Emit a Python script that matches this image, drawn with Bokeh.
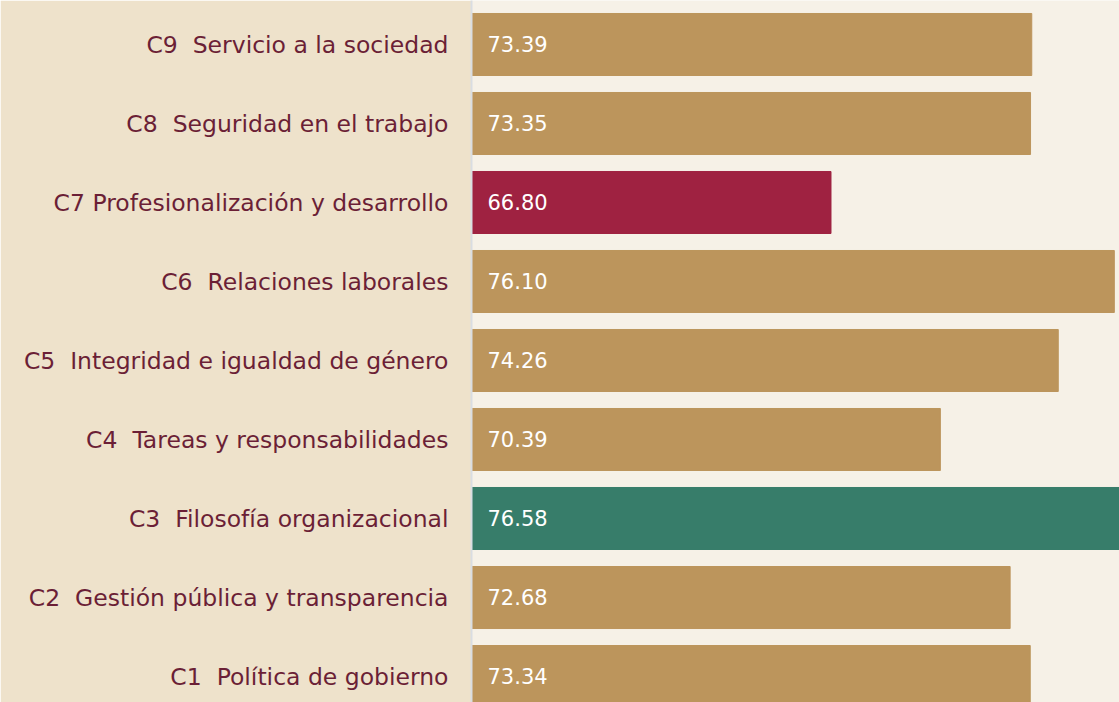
from bokeh.plotting import figure
from bokeh.models import ColumnDataSource, Range1d, FixedTicker
from bokeh.core.properties import value
from bokeh.embed import file_html
from bokeh.resources import INLINE

NB = "\u00a0"
categories = [
    "C1" + NB + " Política de gobierno",
    "C2" + NB + " Gestión pública y transparencia",
    "C3" + NB + " Filosofía organizacional",
    "C4" + NB + " Tareas y responsabilidades",
    "C5" + NB + " Integridad e igualdad de género",
    "C6" + NB + " Relaciones laborales",
    "C7 Profesionalización y desarrollo",
    "C8" + NB + " Seguridad en el trabajo",
    "C9" + NB + " Servicio a la sociedad",
]
scores = [73.34, 72.68, 76.58, 70.39, 74.26, 76.10, 66.80, 73.35, 73.39]
bar_colors = ["#BC955C", "#BC955C", "#377D6A", "#BC955C", "#BC955C",
              "#BC955C", "#9F2241", "#BC955C", "#BC955C"]

base = 55
positions = list(range(1, len(categories) + 1))
labels = [f"{v:.2f}" for v in scores]

src = ColumnDataSource(dict(y=positions, v=scores, c=bar_colors, lab=labels,
                            base=[base] * len(scores)))

FONT = "DejaVu Sans"

p = figure(width=1119, height=702, output_backend="svg", toolbar_location=None,
           x_range=Range1d(base, 76.27), y_range=Range1d(0.671, 9.557),
           min_border_left=471, min_border_right=0, min_border_top=0,
           min_border_bottom=0)

p.background_fill_color = "#F6F1E7"
p.border_fill_color = "#EEE2CB"
p.outline_line_color = None
p.grid.visible = False
p.xaxis.visible = False

p.hbar(y="y", left="base", right="v", height=0.785, color="c", source=src)
p.text(x="base", y="y", text="lab", source=src, x_offset=16, y_offset=-1,
       text_color="white", text_font=value(FONT), text_font_size="21px",
       text_baseline="middle", text_align="left")

ax = p.yaxis[0]
ax.ticker = FixedTicker(ticks=positions)
ax.major_label_overrides = {pos: cat for pos, cat in zip(positions, categories)}
ax.major_tick_line_color = None
ax.minor_tick_line_color = None
ax.axis_line_color = "#D9DDE2"
ax.axis_line_width = 2
ax.major_label_standoff = 17
ax.major_label_text_font = FONT
ax.major_label_text_font_size = "23.5px"
ax.major_label_text_color = "#6B1F36"

open("out.html", "w").write(file_html(p, INLINE))
